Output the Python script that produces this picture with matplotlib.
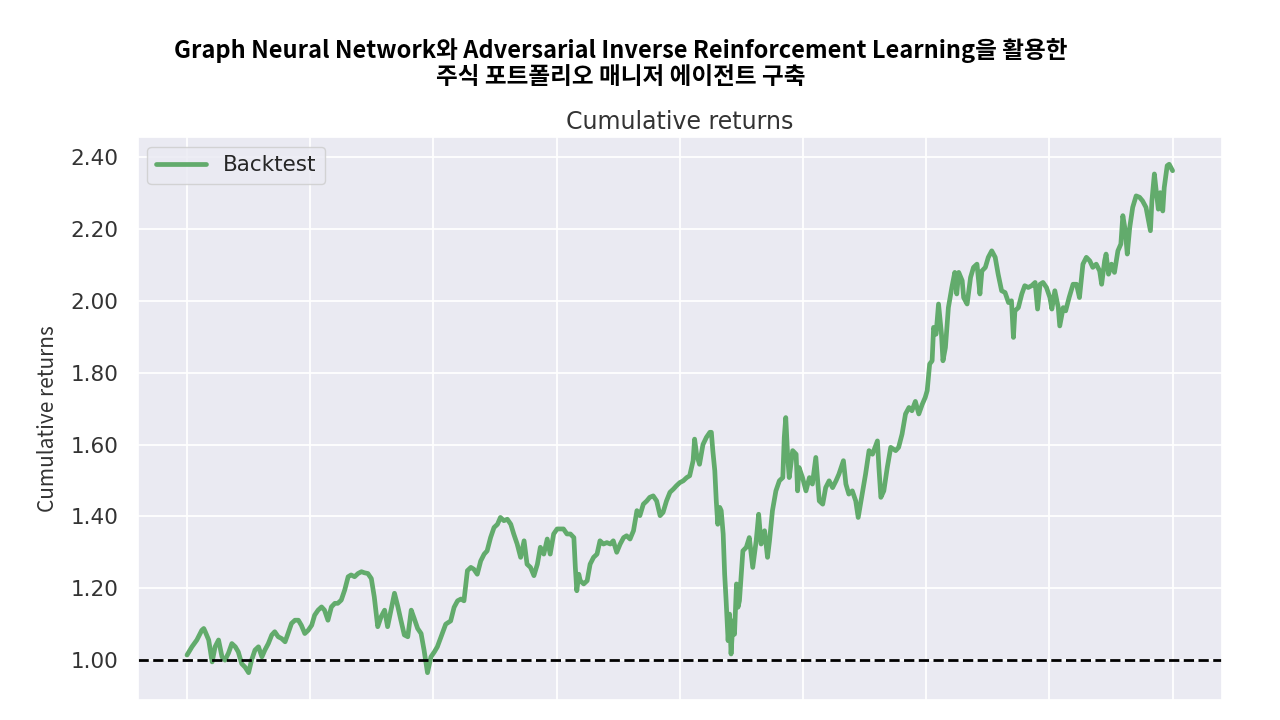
import numpy as np
import matplotlib
matplotlib.use("Agg")
import matplotlib.pyplot as plt
import seaborn as sns
from matplotlib.ticker import MultipleLocator, FormatStrFormatter

sns.set_theme(style="darkgrid")
plt.rcParams['font.family'] = ['DejaVu Sans']

title_text = ("Graph Neural Network와 Adversarial Inverse Reinforcement Learning을 활용한\n"
              "주식 포트폴리오 매니저 에이전트 구축")

# trading day index of each point
days = [
    0, 10, 20, 30, 34, 37, 44, 51, 57, 64, 71, 77, 84, 91, 98, 104, 111, 118, 125, 131,
    138, 145, 152, 158, 165, 172, 178, 185, 192, 199, 205, 212, 219, 226, 232, 239, 246, 253, 259, 266,
    273, 279, 286, 293, 300, 306, 313, 320, 327, 333, 340, 347, 354, 360, 367, 374, 380, 387, 394, 401,
    407, 414, 421, 428, 434, 441, 448, 455, 461, 468, 475, 481, 488, 495, 502, 508, 515, 525, 535, 542,
    549, 556, 562, 569, 576, 582, 589, 596, 603, 609, 616, 623, 630, 636, 643, 650, 657, 663, 670, 677,
    684, 690, 697, 704, 711, 717, 724, 731, 737, 744, 751, 758, 764, 771, 778, 785, 788, 791, 795, 798,
    805, 812, 818, 825, 832, 838, 845, 852, 859, 865, 872, 879, 886, 892, 899, 906, 913, 919, 926, 933,
    939, 946, 953, 960, 966, 973, 980, 987, 993, 1000, 1007, 1014, 1020, 1027, 1030, 1034, 1040, 1047, 1054, 1061,
    1064, 1067, 1071, 1074, 1077, 1081, 1084, 1088, 1091, 1094, 1098, 1101, 1104, 1108, 1111, 1115, 1118, 1121, 1128, 1135,
    1141, 1148, 1155, 1160, 1165, 1172, 1178, 1182, 1188, 1195, 1202, 1209, 1212, 1215, 1219, 1222, 1229, 1236, 1239, 1242,
    1249, 1256, 1263, 1269, 1276, 1283, 1290, 1296, 1303, 1310, 1317, 1323, 1332, 1337, 1343, 1350, 1357, 1362, 1370, 1377,
    1384, 1391, 1401, 1404, 1408, 1414, 1421, 1428, 1438, 1444, 1451, 1458, 1465, 1471, 1478, 1485, 1492, 1498, 1502, 1507,
    1512, 1515, 1520, 1525, 1531, 1534, 1539, 1545, 1552, 1558, 1562, 1566, 1573, 1576, 1583, 1590, 1596, 1603, 1609, 1613,
    1620, 1626, 1633, 1640, 1646, 1653, 1660, 1667, 1673, 1677, 1680, 1687, 1694, 1700, 1707, 1714, 1721, 1726, 1731, 1737,
    1744, 1751, 1755, 1761, 1768, 1771, 1778, 1783, 1790, 1798, 1805, 1811, 1818, 1825, 1832, 1838, 1845, 1852, 1856, 1862,
    1865, 1870, 1876, 1882, 1889, 1895, 1899, 1904, 1908, 1913, 1919, 1926, 1933, 1939, 1946, 1951, 1955, 1958, 1963, 1966,
    1971, 1975, 1980, 1983, 1989, 1993, 2000,
]

backtest = [
    1.014, 1.037, 1.056, 1.083, 1.088, 1.079, 1.056, 0.995, 1.037, 1.056, 1.009, 1.000, 1.019, 1.046, 1.037, 1.023, 0.990, 0.980, 0.965, 1.000,
    1.028, 1.037, 1.009, 1.028, 1.046, 1.070, 1.079, 1.065, 1.060, 1.051, 1.074, 1.102, 1.111, 1.111, 1.097, 1.074, 1.083, 1.097, 1.125, 1.139,
    1.148, 1.139, 1.111, 1.148, 1.158, 1.158, 1.167, 1.195, 1.232, 1.237, 1.232, 1.241, 1.246, 1.243, 1.241, 1.227, 1.176, 1.093, 1.121, 1.139,
    1.093, 1.139, 1.186, 1.148, 1.111, 1.070, 1.065, 1.139, 1.116, 1.088, 1.074, 1.028, 0.965, 1.009, 1.023, 1.037, 1.063, 1.100, 1.109, 1.147,
    1.165, 1.170, 1.165, 1.249, 1.258, 1.253, 1.239, 1.276, 1.295, 1.304, 1.341, 1.369, 1.378, 1.397, 1.388, 1.392, 1.378, 1.351, 1.323, 1.286,
    1.332, 1.267, 1.258, 1.235, 1.267, 1.314, 1.295, 1.337, 1.295, 1.351, 1.365, 1.365, 1.365, 1.351, 1.351, 1.341, 1.258, 1.193, 1.239, 1.221,
    1.212, 1.221, 1.267, 1.286, 1.295, 1.332, 1.323, 1.327, 1.323, 1.332, 1.300, 1.323, 1.341, 1.346, 1.337, 1.360, 1.416, 1.402, 1.434, 1.443,
    1.453, 1.457, 1.443, 1.402, 1.411, 1.443, 1.467, 1.476, 1.485, 1.494, 1.499, 1.508, 1.513, 1.555, 1.615, 1.573, 1.545, 1.600, 1.620, 1.634,
    1.634, 1.583, 1.527, 1.443, 1.378, 1.425, 1.416, 1.351, 1.239, 1.165, 1.054, 1.128, 1.017, 1.109, 1.072, 1.212, 1.147, 1.165, 1.304, 1.314,
    1.341, 1.258, 1.332, 1.406, 1.323, 1.360, 1.286, 1.332, 1.416, 1.471, 1.499, 1.508, 1.620, 1.675, 1.564, 1.508, 1.583, 1.573, 1.471, 1.536,
    1.508, 1.471, 1.508, 1.490, 1.564, 1.443, 1.434, 1.480, 1.499, 1.480, 1.499, 1.518, 1.555, 1.490, 1.462, 1.471, 1.443, 1.397, 1.462, 1.518,
    1.583, 1.573, 1.610, 1.536, 1.453, 1.471, 1.536, 1.592, 1.583, 1.592, 1.629, 1.685, 1.703, 1.694, 1.720, 1.685, 1.712, 1.731, 1.750, 1.824,
    1.833, 1.926, 1.907, 1.991, 1.907, 1.833, 1.870, 1.981, 2.037, 2.079, 2.019, 2.079, 2.056, 2.009, 1.991, 2.065, 2.093, 2.102, 2.019, 2.083,
    2.093, 2.121, 2.139, 2.121, 2.074, 2.028, 2.023, 1.995, 2.000, 1.898, 1.972, 1.981, 2.019, 2.042, 2.037, 2.042, 2.051, 1.977, 2.046, 2.051,
    2.037, 2.009, 1.977, 2.028, 1.981, 1.930, 1.981, 1.972, 2.009, 2.046, 2.046, 2.009, 2.102, 2.121, 2.111, 2.093, 2.102, 2.083, 2.046, 2.111,
    2.130, 2.074, 2.102, 2.079, 2.139, 2.158, 2.237, 2.195, 2.130, 2.204, 2.260, 2.292, 2.288, 2.278, 2.260, 2.223, 2.195, 2.278, 2.353, 2.315,
    2.255, 2.301, 2.250, 2.315, 2.376, 2.380, 2.362,
]

fig = plt.figure(figsize=(12.8, 7.2), dpi=100)
ax = fig.add_axes([0.1076, 0.0278, 0.847, 0.782])

ax.plot(days, backtest, color="#62ab6c", lw=3.4, label="Backtest")
ax.axhline(1.0, color="black", ls="--", lw=2)

ax.xaxis.set_major_locator(MultipleLocator(250))
ax.set_xticklabels([])
ax.set_xlim(-100, 2100)
ax.set_ylim(0.889, 2.456)
ax.yaxis.set_major_locator(MultipleLocator(0.2))
ax.yaxis.set_major_formatter(FormatStrFormatter("%.2f"))
ax.tick_params(axis="y", labelsize=15.5, pad=8, labelcolor="#333333")
ax.grid(color="white", lw=1.3)

ax.set_title("Cumulative returns", fontsize=17, color="#333333", pad=6)
ax.set_ylabel("Cumulative returns", fontsize=15, color="#333333", labelpad=8,
              family=["Noto Sans CJK KR", "DejaVu Sans"])
ax.legend(loc="upper left", fontsize=15.5, frameon=True, handlelength=2.3,
          borderaxespad=0.45)

fig.text(0.485, 0.912, title_text, ha="center", va="center", fontsize=17,
         fontweight="bold", color="black", linespacing=1.1,
         family=["Noto Sans CJK KR", "DejaVu Sans"])

fig.savefig("out.png", dpi=100)
